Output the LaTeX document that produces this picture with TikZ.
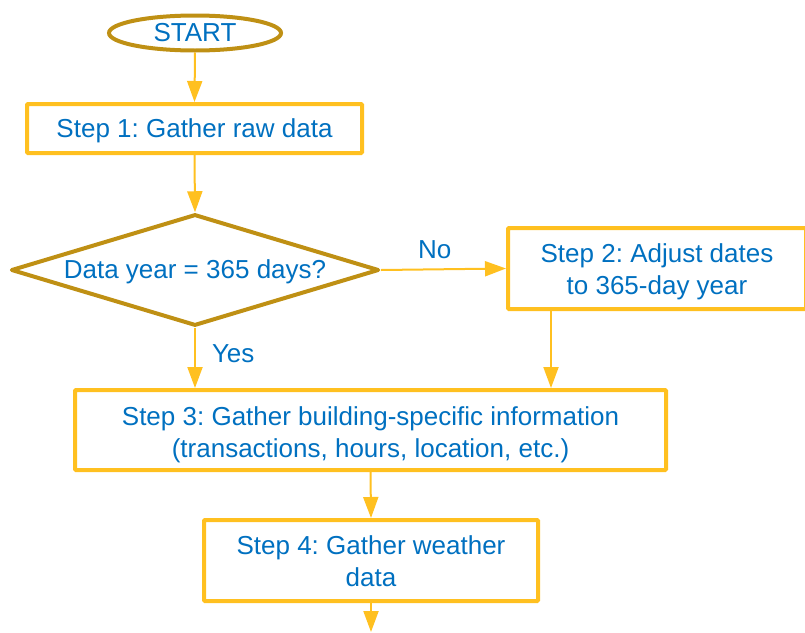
\documentclass[tikz,border=0pt]{standalone}
\usepackage{fontspec}
\setmainfont{Liberation Sans}
\frenchspacing
\usetikzlibrary{shapes.geometric,arrows.meta,calc}
\definecolor{boxgold}{RGB}{255,192,32}
\definecolor{darkgold}{RGB}{191,144,20}
\definecolor{txtblue}{RGB}{0,112,192}
\newcommand{\lowertext}[2]{\raisebox{-#1}[\height][\depth]{\begin{tabular}{@{}c@{}}#2\end{tabular}}}
\begin{document}
\begin{tikzpicture}[x=1pt,y=-1pt,
  every node/.style={font=\fontsize{26}{32}\selectfont\frenchspacing, text=txtblue, inner sep=0pt, align=center},
  stepbox/.style={draw=boxgold, line width=4pt, rectangle, rounded corners=1pt},
  termbox/.style={draw=darkgold, line width=4pt, ellipse},
  decbox/.style={draw=darkgold, line width=4pt, diamond, line join=round},
  conn/.style={draw=boxgold, line width=2pt, -{Triangle[length=21pt,width=15pt]}},
  lbl/.style={font=\fontsize{26}{32}\selectfont}
]
\useasboundingbox (0,0) rectangle (805,632);
\node[termbox, minimum width=172pt, minimum height=35pt] (start) at (195,33) {START};
\node[stepbox, minimum width=335pt, minimum height=49pt] (s1) at (194.5,128.5) {\lowertext{3pt}{Step 1: Gather raw data}};
\node[decbox, minimum width=366pt, minimum height=110pt, aspect=3.3] (dia) at (195,270) {\lowertext{2pt}{Data year = 365 days?}};
\node[stepbox, minimum width=298pt, minimum height=81pt] (s2) at (657,268.5) {\lowertext{4pt}{Step 2: Adjust dates\\to 365-day year}};
\node[stepbox, minimum width=591pt, minimum height=80pt] (s3) at (370.5,430) {\lowertext{5pt}{Step 3: Gather building-specific information\\(transactions, hours, location, etc.)}};
\node[stepbox, minimum width=334pt, minimum height=81pt] (s4) at (371,560.5) {\lowertext{3.5pt}{Step 4: Gather weather\\data}};
\coordinate (end) at (371,632);

\draw[conn] (start.south) -- (s1.north);
\draw[conn] (s1.south) -- (dia.north);
\draw[conn] (dia.east) -- node[lbl, above=10pt, pos=0.43] (no) {No} (s2.west);
\draw[conn] (dia.south) -- node[lbl, right=16pt, pos=0.43] (yes) {Yes} (dia.south |- s3.north);
\draw[conn] ([xshift=45pt]s2.south west) -- ([xshift=45pt]s2.south west |- s3.north);
\draw[conn] (s3.south) -- (s4.north);
\draw[conn] (s4.south) -- (end);
\end{tikzpicture}
\end{document}
